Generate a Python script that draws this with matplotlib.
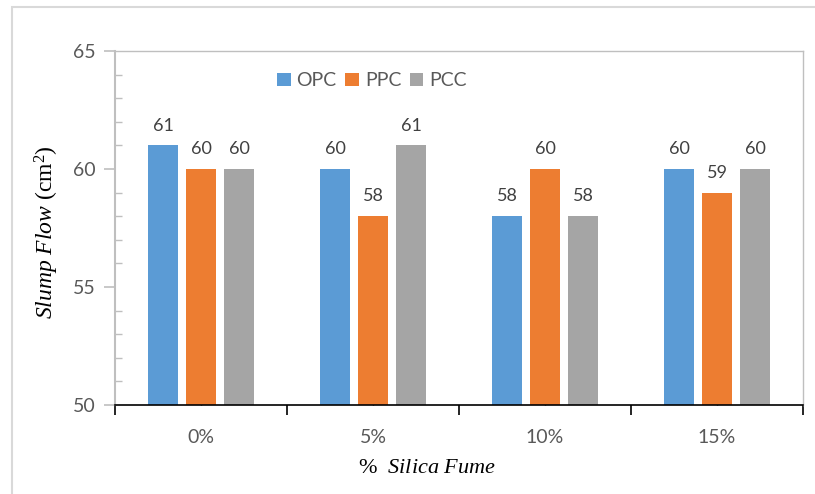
import matplotlib
matplotlib.use("Agg")
import matplotlib.pyplot as plt
from matplotlib.patches import Rectangle
import numpy as np

categories = ["0%", "5%", "10%", "15%"]
series = ["OPC", "PPC", "PCC"]
opc = [61, 60, 58, 60]
ppc = [60, 58, 60, 59]
pcc = [60, 61, 58, 60]
colors = ["#5B9BD5", "#ED7D31", "#A5A5A5"]

plt.rcParams['mathtext.fontset'] = 'custom'
plt.rcParams['mathtext.rm'] = 'Liberation Serif'
plt.rcParams['mathtext.it'] = 'Liberation Serif:italic'

W, H = 815, 494
fig = plt.figure(figsize=(W/100, H/100), dpi=100)
ax = fig.add_axes([115/W, 1-405/H, (803-115)/W, (405-51)/H])

# outer chart border
fig.add_artist(Rectangle((12/W, -0.1), 1.2, 1-7/H+0.1, transform=fig.transFigure,
                         fill=False, edgecolor="#D9D9D9", linewidth=1.5))

x = np.arange(len(categories))
bw = 30/172
pitch = 38/172
tick_font = "Lato"
for i, (name, vals) in enumerate(zip(series, [opc, ppc, pcc])):
    pos = x + (i-1)*pitch
    ax.bar(pos, [v-50 for v in vals], bw, bottom=50, color=colors[i], label=name, zorder=2)
    for p, v in zip(pos, vals):
        ax.text(p, v+0.5, f"{v}", ha="center", va="bottom", fontsize=13,
                color="#404040", family=tick_font)

ax.set_xlim(-0.5, 3.5)
ax.set_ylim(50, 65)
ax.set_yticks([50, 55, 60, 65])
ax.set_yticks(np.arange(50, 66, 1), minor=True)
ax.set_xticks(np.arange(-0.5, 4, 1))
ax.set_xticklabels([])
ax.set_xticks(x, minor=True)
ax.set_xticklabels(categories, minor=True)

for lbl in ax.get_yticklabels() + ax.get_xticklabels(minor=True):
    lbl.set_family(tick_font)
    lbl.set_fontsize(14)
    lbl.set_color("#595959")

ax.tick_params(axis='y', which='major', length=8, width=1.2, color="#BFBFBF", direction='out', pad=6)
ax.tick_params(axis='y', which='minor', length=5, width=1.0, color="#BFBFBF", direction='in')
ax.tick_params(axis='x', which='major', length=7, width=1.2, color="black", direction='out')
ax.tick_params(axis='x', which='minor', length=5, width=1.0, color="black", direction='in', pad=17)

for s in ["top", "right"]:
    ax.spines[s].set_color("#BFBFBF")
    ax.spines[s].set_linewidth(1.0)
ax.spines["left"].set_color("#BFBFBF")
ax.spines["left"].set_linewidth(1.5)
ax.spines["bottom"].set_color("black")
ax.spines["bottom"].set_linewidth(1.2)

ax.set_ylabel(r"$\it{Slump\ Flow}$ (cm$^2$)", fontsize=17, family="Liberation Serif", va="center")
ax.yaxis.set_label_coords((47-115)/688, (405-232)/354)
ax.set_xlabel(r"%  $\it{Silica\ Fume}$", fontsize=16, family="Liberation Serif", va="center")
ax.xaxis.set_label_coords((427-115)/688, (405-468)/354)

leg = ax.legend(loc="center left", bbox_to_anchor=((277-115)/688, (405-81)/354), ncol=3,
                frameon=False, borderpad=0, borderaxespad=0,
                handlelength=0.7, handleheight=0.7, handletextpad=0.3, columnspacing=0.45,
                prop={"family": tick_font, "size": 14})
for t in leg.get_texts():
    t.set_color("#595959")

fig.savefig("out.png", dpi=100)
